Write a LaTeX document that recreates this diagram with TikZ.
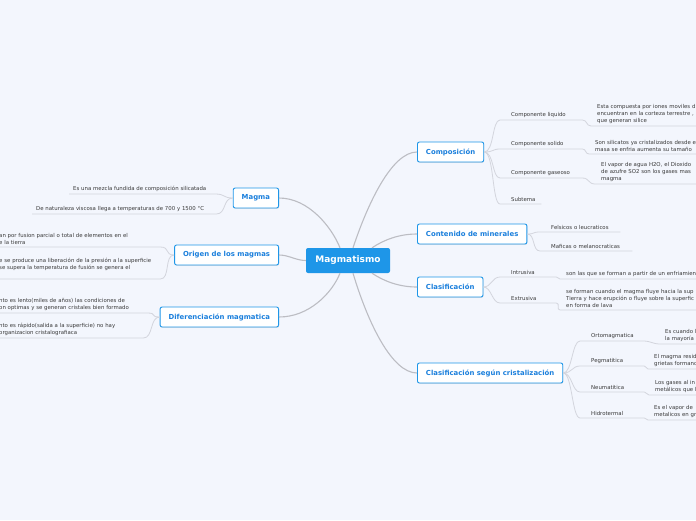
\documentclass[tikz,border=0pt]{standalone}
\usepackage{fontspec}
\setmainfont{DejaVu Sans}
\usepackage{xcolor}
\usetikzlibrary{calc,shadows}
\definecolor{bgblue}{HTML}{F3F6FD}
\definecolor{mapblue}{HTML}{1E96E8}
\definecolor{topictext}{HTML}{1A7FDC}
\definecolor{linkgray}{HTML}{BCBDC3}
\definecolor{twiggray}{HTML}{D3D5DD}
\definecolor{leaftext}{HTML}{3A3A3A}
\hyphenpenalty=10000

\begin{document}
\begin{tikzpicture}[x=1pt,y=-1pt,
  root/.style={fill=mapblue,rounded corners=2pt,text=white,
    font=\bfseries\fontsize{9}{10}\selectfont,minimum width=84pt,minimum height=25pt},
  topic/.style={draw=mapblue,line width=0.9pt,fill=white,rounded corners=2pt,
    text=topictext,font=\bfseries\fontsize{6.9}{7}\selectfont,minimum height=20pt,
    inner xsep=8.5pt,drop shadow={shadow xshift=0.5pt,shadow yshift=-0.8pt,opacity=0.2}},
  sub/.style={font=\fontsize{5.4}{7}\selectfont,text=leaftext,align=left,
    inner xsep=11pt,inner ysep=2pt,anchor=south west},
  leaf/.style={sub,inner xsep=6pt},
  lleaf/.style={sub,inner xsep=4pt},
  link/.style={draw=linkgray,line width=1.1pt},
  twig/.style={draw=twiggray,line width=0.8pt}]
  \useasboundingbox (0,0) rectangle (696,520);
  \clip (0,0) rectangle (696,520);
  \fill[bgblue] (0,0) rectangle (696,520);

  % center
  \node[root] (root) at (348,260.5) {Magmatismo};

  % topics
  \node[topic,anchor=east,minimum width=45pt] (magma) at (279,198) {Magma};
  \node[topic,anchor=east] (origen) at (279,255) {Origen de los magmas};
  \node[topic,anchor=east] (difer) at (279,317) {Diferenciación magmatica};
  \node[topic,anchor=west] (comp) at (417,152) {Composición};
  \node[topic,anchor=west] (miner) at (417,234) {Contenido de minerales};
  \node[topic,anchor=west] (clasif) at (417,287) {Clasificación};
  \node[topic,anchor=west] (crist) at (417,373) {Clasificación según cristalización};

  % links from center
  \draw[link] ($(root.north)+(-8,0)$) .. controls +(-8,-20) and +(30,0) .. (magma.east);
  \draw[link] (root.west) .. controls +(-10,0) and +(10,0) .. (origen.east);
  \draw[link] ($(root.south)+(-8,0)$) .. controls +(-8,20) and +(30,0) .. (difer.east);
  \draw[link] ($(root.north)+(5,0)$) .. controls +(15,-45) and +(-25,0) .. (comp.west);
  \draw[link] ($(root.north)+(24,0)$) .. controls +(12,-8) and +(-18,0) .. (miner.west);
  \draw[link] ($(root.south)+(24,0)$) .. controls +(12,8) and +(-18,0) .. (clasif.west);
  \draw[link] ($(root.south)+(5,0)$) .. controls +(15,50) and +(-25,0) .. (crist.west);

  % Magma
  \node[lleaf,text width=138pt] (mezcla) at (69,194) {Es una mezcla fundida de composición silicatada};
  \node[lleaf,text width=176pt] (viscosa) at (32,214) {De naturaleza viscosa llega a temperaturas de 700 y 1500 °C};
  \foreach \n in {mezcla,viscosa}
    \draw[twig] (magma.west) .. controls +(-10,0) and +(10,0) .. (\n.south east) -- (\n.south west);

  % Origen de los magmas
  \node[lleaf,text width=157pt] (fusion) at (-5,247) {an por fusion parcial o total de elementos en el\\e la tierra};
  \node[lleaf,text width=157pt] (presion) at (-5,279) {e se produce una liberación de la presión a la superficie\\se supera la temperatura de fusión se genera el\\~};
  \foreach \n in {fusion,presion}
    \draw[twig] (origen.west) .. controls +(-10,0) and +(10,0) .. (\n.south east) -- (\n.south west);

  % Diferenciacion magmatica
  \node[lleaf,text width=144pt] (lento) at (-5,313) {nto es lento(miles de años) las condiciones de\\on optimas y se generan cristales bien formado};
  \node[lleaf,text width=140pt] (rapido) at (-5,338) {nto es rápido(salida a la superficie) no hay\\organizacion cristalografiaca};
  \foreach \n in {lento,rapido}
    \draw[twig] (difer.west) .. controls +(-10,0) and +(10,0) .. (\n.south east) -- (\n.south west);

  % Composicion
  \node[sub,text width=60pt] (liquido) at (500,120) {Componente liquido};
  \node[sub,text width=60pt] (solido) at (500,149) {Componente solido};
  \node[sub,text width=60pt] (gaseoso) at (500,178) {Componente gaseoso};
  \node[sub,text width=19pt] (subtema) at (500,204) {Subtema};
  \foreach \n in {liquido,solido,gaseoso,subtema}
    \draw[twig] (comp.east) .. controls +(10,0) and +(-8,0) .. (\n.south west) -- (\n.south east);
  \node[leaf,text width=150pt] (iones) at (591,126) {Esta compuesta por iones moviles d\\encuentran en la corteza terrestre ,\\que generan silice};
  \node[leaf,text width=150pt] (silicatos) at (589,154) {Son silicatos ya cristalizados desde e\\masa se enfria aumenta su tamaño};
  \node[leaf,text width=150pt] (vapor) at (595,184) {El vapor de agua H2O, el Dioxido\\de azufre SO2 son los gases mas\\magma};
  \draw[twig] (liquido.south east) .. controls +(5,0) and +(-5,0) .. (iones.south west) -- (iones.south east);
  \draw[twig] (solido.south east) .. controls +(4,0) and +(-4,0) .. (silicatos.south west) -- (silicatos.south east);
  \draw[twig] (gaseoso.south east) .. controls +(7,0) and +(-7,0) .. (vapor.south west) -- (vapor.south east);

  % Contenido de minerales
  \node[sub,text width=58pt] (felsicos) at (540,232) {Felsicos o leucraticos};
  \node[sub,text width=70pt] (maficas) at (540,251) {Maficas o melanocraticas};
  \foreach \n in {felsicos,maficas}
    \draw[twig] (miner.east) .. controls +(8,0) and +(-8,0) .. (\n.south west) -- (\n.south east);

  % Clasificacion
  \node[sub,text width=34pt] (intrusiva) at (500,277) {Intrusiva};
  \node[sub,text width=34pt] (extrusiva) at (500,303) {Extrusiva};
  \foreach \n in {intrusiva,extrusiva}
    \draw[twig] (clasif.east) .. controls +(8,0) and +(-8,0) .. (\n.south west) -- (\n.south east);
  \node[leaf,text width=150pt] (enfria) at (560,279) {son las que se forman a partir de un enfriamien};
  \node[leaf,text width=150pt] (fluye) at (560,310) {se forman cuando el magma fluye hacia la sup\\Tierra y hace erupción o fluye sobre la superfic\\en forma de lava};
  \draw[twig] (intrusiva.south east) .. controls +(3,0) and +(-3,0) .. (enfria.south west) -- (enfria.south east);
  \draw[twig] (extrusiva.south east) .. controls +(4,0) and +(-4,0) .. (fluye.south west) -- (fluye.south east);

  % Clasificacion segun cristalizacion
  \node[sub,text width=42pt] (orto) at (580,341) {Ortomagmatica};
  \node[sub,text width=42pt] (pegma) at (580,366) {Pegmatitica};
  \node[sub,text width=42pt] (neuma) at (580,392) {Neumatitica};
  \node[sub,text width=42pt] (hidro) at (580,418) {Hidrotermal};
  \foreach \n in {orto,pegma,neuma,hidro}
    \draw[twig] (crist.east) .. controls +(9,0) and +(-8,0) .. (\n.south west) -- (\n.south east);
  \node[leaf,text width=80pt] (cuando) at (659,344) {Es cuando l\\la mayoría};
  \node[leaf,text width=80pt] (resid) at (648,369) {El magma resid\\grietas formand};
  \node[leaf,text width=80pt] (gases) at (649,395) {Los gases al in\\metálicos que l};
  \node[leaf,text width=80pt] (vaporagua) at (648,420) {Es el vapor de\\metalicos en gr};
  \draw[twig] (orto.south east) .. controls +(5,0) and +(-5,0) .. (cuando.south west) -- (cuando.south east);
  \draw[twig] (pegma.south east) .. controls +(2,0) and +(-2,0) .. (resid.south west) -- (resid.south east);
  \draw[twig] (neuma.south east) .. controls +(2,0) and +(-2,0) .. (gases.south west) -- (gases.south east);
  \draw[twig] (hidro.south east) .. controls +(2,0) and +(-2,0) .. (vaporagua.south west) -- (vaporagua.south east);
\end{tikzpicture}
\end{document}
